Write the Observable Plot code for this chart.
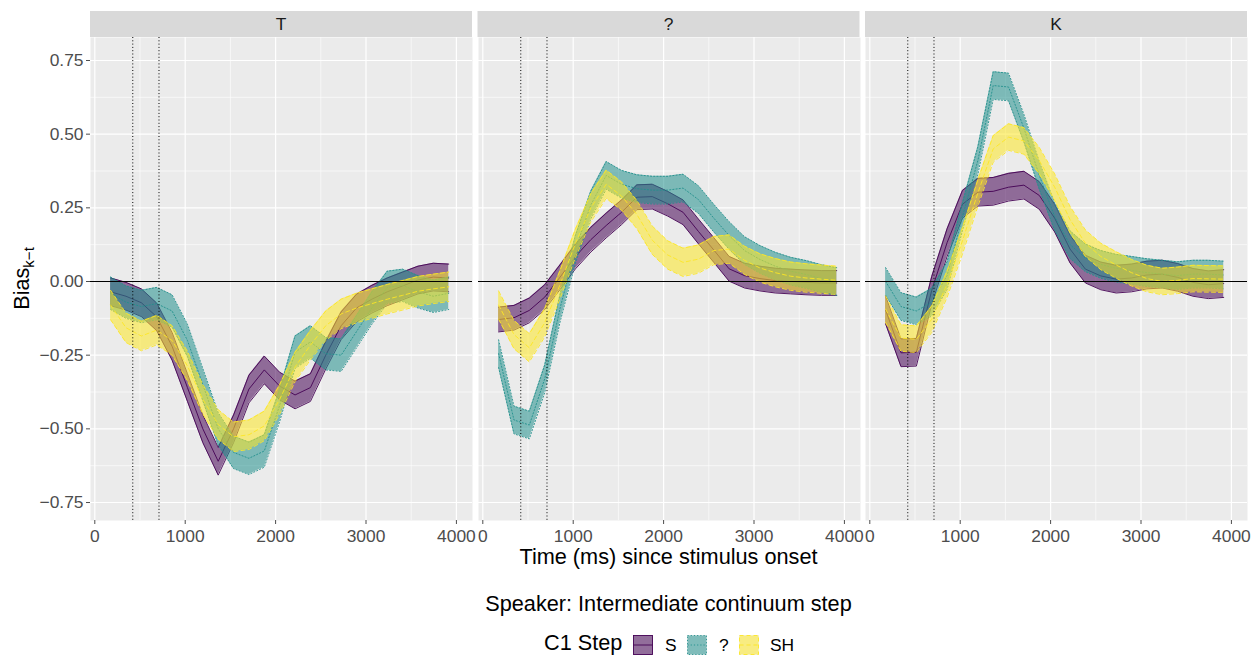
<!DOCTYPE html>
<html>
<head>
<meta charset="utf-8">
<script src="https://cdn.jsdelivr.net/npm/d3@7"></script>
<script src="https://cdn.jsdelivr.net/npm/@observablehq/plot@0.6"></script>
<style>
  body { margin: 0; background: #ffffff; font-family: "Liberation Sans", Arial, sans-serif; }
  #root { position: relative; width: 1251px; height: 656px; overflow: hidden; background: #fff; }
  #root svg.plotpanel { position: absolute; top: 37px; }
  #overlay { position: absolute; left: 0; top: 0; pointer-events: none; }
</style>
</head>
<body>
<div id="root"></div>
<script>
// ---------------- data ----------------
const times = [175, 345, 515, 685, 855, 1025, 1195, 1365, 1535, 1705, 1875, 2045,
               2215, 2385, 2555, 2725, 2895, 3065, 3235, 3405, 3575, 3745, 3915];

const facetLabels = ["T", "?", "K"];
const stepLabels = ["S", "?", "SH"];
const stepColors = ["#440154", "#21908C", "#FDE725"];
const stepDash = [null, "1.2,2", "4,3"];

const xMajor = [0, 1000, 2000, 3000, 4000];
const xMinor = [500, 1500, 2500, 3500];
const yMajor = [-0.75, -0.5, -0.25, 0, 0.25, 0.5, 0.75];
const yMinor = [-0.625, -0.375, -0.125, 0.125, 0.375, 0.625];
const landmarks = [420, 710];

// facet T
const T_S  = [-0.035, -0.05, -0.072, -0.12, -0.22, -0.36, -0.50, -0.61, -0.50, -0.365, -0.30, -0.355,
              -0.385, -0.36, -0.25, -0.15, -0.09, -0.06, -0.035, -0.015, 0.005, 0.015, 0.012];
const T_Q  = [-0.04, -0.07, -0.085, -0.075, -0.10, -0.20, -0.35, -0.50, -0.58, -0.60, -0.575, -0.42,
              -0.24, -0.205, -0.245, -0.25, -0.17, -0.09, -0.02, -0.013, -0.035, -0.05, -0.04];
const T_SH = [-0.08, -0.157, -0.185, -0.165, -0.20, -0.287, -0.40, -0.485, -0.527, -0.52, -0.49, -0.40,
              -0.29, -0.216, -0.15, -0.11, -0.09, -0.075, -0.06, -0.047, -0.033, -0.025, -0.018];
// facet ?
const Q_S  = [-0.129, -0.123, -0.098, -0.053, 0.015, 0.085, 0.142, 0.19, 0.235, 0.286, 0.288, 0.264,
              0.235, 0.17, 0.107, 0.043, 0.02, 0.01, 0.003, 0.0, -0.003, -0.005, -0.005];
const Q_Q  = [-0.245, -0.47, -0.487, -0.33, -0.09, 0.11, 0.26, 0.36, 0.33, 0.315, 0.31, 0.31,
              0.317, 0.278, 0.215, 0.156, 0.105, 0.075, 0.052, 0.035, 0.024, 0.01, 0.0];
const Q_SH = [-0.08, -0.18, -0.225, -0.14, -0.01, 0.13, 0.25, 0.33, 0.29, 0.227, 0.14, 0.09,
              0.065, 0.076, 0.105, 0.11, 0.072, 0.046, 0.03, 0.018, 0.012, 0.008, 0.004];
// facet K
const K_S  = [-0.097, -0.242, -0.24, -0.03, 0.132, 0.262, 0.303, 0.306, 0.32, 0.327, 0.292, 0.215,
              0.11, 0.042, 0.019, 0.008, 0.012, 0.022, 0.025, 0.014, -0.003, -0.011, -0.007];
const K_Q  = [0.0, -0.085, -0.10, -0.07, 0.02, 0.22, 0.41, 0.665, 0.66, 0.52, 0.36, 0.22,
              0.125, 0.08, 0.058, 0.045, 0.038, 0.03, 0.025, 0.02, 0.025, 0.025, 0.022];
const K_SH = [-0.094, -0.192, -0.196, -0.128, -0.009, 0.138, 0.30, 0.45, 0.49, 0.477, 0.41, 0.32,
              0.21, 0.13, 0.085, 0.056, 0.03, 0.01, 0.0, 0.004, 0.01, 0.009, 0.008];

// half-width of the confidence band, per facet, per step (S, ?, SH)
const halfT = [0.047, 0.055, 0.05];
const halfQ = [0.042, 0.047, 0.048];
const halfK = [0.047, 0.047, 0.045];

const facetSeries = [[T_S, T_Q, T_SH], [Q_S, Q_Q, Q_SH], [K_S, K_Q, K_SH]];
const facetHalf = [halfT, halfQ, halfK];

// ---------------- layout ----------------
const root = document.getElementById("root");
const panelLeft = [90, 477.5, 865];
const panelW = 382, panelH = 483, panelTop = 37;
const fontFam = "'Liberation Sans', Arial, sans-serif";

facetLabels.forEach((lab, fi) => {
  const first = fi === 0;
  const mL = first ? 90 : 20, mR = 20;
  const marks = [
    Plot.frame({fill: "#ebebeb"}),
    Plot.ruleX(xMinor, {stroke: "#ffffff", strokeWidth: 0.6}),
    Plot.ruleY(yMinor, {stroke: "#ffffff", strokeWidth: 0.6}),
    Plot.ruleX(xMajor, {stroke: "#ffffff", strokeWidth: 1.2}),
    Plot.ruleY(yMajor, {stroke: "#ffffff", strokeWidth: 1.2})
  ];
  stepLabels.forEach((s, si) => {
    const mid = facetSeries[fi][si];
    const h = facetHalf[fi][si];
    const rows = times.map((t, i) => ({t, mid: mid[i], lo: mid[i] - h, hi: mid[i] + h}));
    const c = stepColors[si];
    const dash = stepDash[si] ?? undefined;
    marks.push(Plot.areaY(rows, {x: "t", y1: "lo", y2: "hi", fill: c, fillOpacity: 0.55}));
    ["lo", "hi", "mid"].forEach(k =>
      marks.push(Plot.lineY(rows, {x: "t", y: k, stroke: c, strokeWidth: 0.9, strokeDasharray: dash})));
  });
  marks.push(Plot.ruleY([0], {stroke: "#000000", strokeWidth: 1}));
  marks.push(Plot.ruleX(landmarks, {stroke: "#000000", strokeWidth: 1, strokeDasharray: "1,2.3"}));
  marks.push(Plot.axisX(xMajor, {tickSize: 4, tickPadding: 5, label: null, tickFormat: d => String(d)}));
  if (first) marks.push(Plot.axisY(yMajor, {tickSize: 4, tickPadding: 3, label: null, tickFormat: d3.format(".2f")}));

  const svg = Plot.plot({
    width: mL + panelW + mR,
    height: panelH + 32,
    marginLeft: mL, marginRight: mR, marginTop: 0, marginBottom: 32,
    x: {domain: [-47.6, 4178]},
    y: {domain: [-0.811, 0.828], axis: first ? undefined : null},
    style: {background: "transparent", overflow: "visible", fontSize: "17.4px", fontFamily: fontFam, color: "#4d4d4d"},
    marks
  });
  svg.classList.add("plotpanel");
  svg.style.left = (panelLeft[fi] - mL) + "px";
  root.appendChild(svg);
});

// ---------------- overlay: strips, titles, legend ----------------
const ov = d3.select(root).append("svg").attr("id", "overlay")
  .attr("width", 1251).attr("height", 656).style("font-family", fontFam);

facetLabels.forEach((lab, fi) => {
  ov.append("rect").attr("x", panelLeft[fi]).attr("y", 11).attr("width", panelW).attr("height", 26)
    .attr("fill", "#d9d9d9");
  ov.append("text").attr("x", panelLeft[fi] + panelW / 2).attr("y", 30)
    .attr("text-anchor", "middle").attr("font-size", "17.4px").attr("fill", "#1a1a1a").text(lab);
});

const cx = (panelLeft[0] + panelLeft[2] + panelW) / 2;
ov.append("text").attr("x", cx).attr("y", 564).attr("text-anchor", "middle")
  .attr("font-size", "21.7px").attr("fill", "#000").text("Time (ms) since stimulus onset");
ov.append("text").attr("x", cx).attr("y", 611).attr("text-anchor", "middle")
  .attr("font-size", "21.7px").attr("fill", "#000").text("Speaker: Intermediate continuum step");

// y title
const yt = ov.append("text").attr("transform", `translate(29,${panelTop + panelH / 2}) rotate(-90)`)
  .attr("text-anchor", "middle").attr("font-size", "21.7px").attr("fill", "#000");
yt.append("tspan").text("Bias");
yt.append("tspan").attr("font-size", "15px").attr("dy", 5).text("k\u2212t");

// legend
ov.append("text").attr("x", 544).attr("y", 650).attr("font-size", "21.7px").attr("fill", "#000").text("C1 Step");
const keyX = [633, 687, 739], labX = [665, 719, 770];
stepLabels.forEach((s, si) => {
  const g = ov.append("g");
  g.append("rect").attr("x", keyX[si]).attr("y", 635).attr("width", 20).attr("height", 20).attr("fill", "#f2f2f2");
  g.append("rect").attr("x", keyX[si] + 0.5).attr("y", 635.5).attr("width", 19).attr("height", 19)
    .attr("fill", stepColors[si]).attr("fill-opacity", 0.55)
    .attr("stroke", stepColors[si]).attr("stroke-width", 0.9)
    .attr("stroke-dasharray", stepDash[si]);
  g.append("line").attr("x1", keyX[si] + 0.5).attr("x2", keyX[si] + 19.5).attr("y1", 645).attr("y2", 645)
    .attr("stroke", stepColors[si]).attr("stroke-width", 0.9).attr("stroke-dasharray", stepDash[si]);
  ov.append("text").attr("x", labX[si]).attr("y", 651).attr("font-size", "17.4px").attr("fill", "#000").text(s);
});
</script>
</body>
</html>
